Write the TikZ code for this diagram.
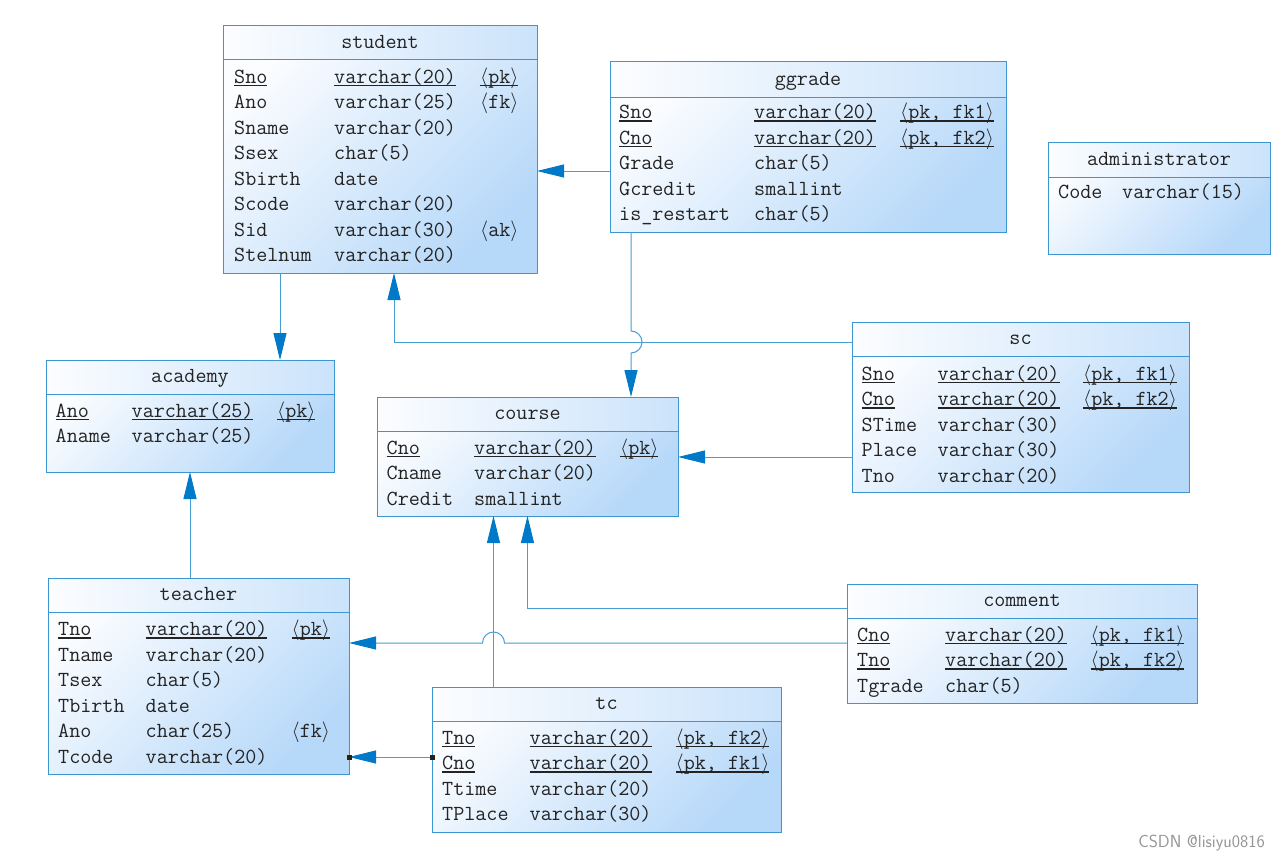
\documentclass[tikz,border=0pt]{standalone}
\usetikzlibrary{arrows.meta}
\definecolor{bord}{RGB}{60,150,210}
\definecolor{lin}{RGB}{70,158,212}
\definecolor{arr}{RGB}{0,122,200}
\definecolor{fillA}{RGB}{252,253,255}
\definecolor{fillB}{RGB}{182,216,249}
\definecolor{txt}{RGB}{35,35,35}
\definecolor{wmk}{RGB}{150,150,150}
\newcommand\erfont{\fontsize{21.5}{25}\selectfont\ttfamily}
\newcommand\erul[1]{\setbox0=\hbox{#1}\rlap{\rule[-3pt]{\wd0}{1.2pt}}\box0}
\newcommand\lan{$\langle$}
\newcommand\ran{$\rangle$}
\tikzset{
  tbl/.style={draw=bord, line width=1pt, top color=fillA, bottom color=fillB, shading angle=45, inner sep=0pt, outer sep=0pt, anchor=north west},
  hdr/.style={draw=bord, line width=1pt, left color=fillA, right color=fillB!70!fillA, inner sep=0pt, outer sep=0pt, anchor=north west},
  ttl/.style={font=\erfont, text=txt, inner sep=0pt, anchor=base, yshift=-5.5pt},
  cell/.style={font=\erfont, text=txt, inner sep=0pt, anchor=base west},
  fk/.style={draw=lin, line width=1pt, -{Triangle[length=27pt,width=13pt,color=arr]}},
  sq/.style={fill=black!75!brown, inner sep=0pt, minimum size=5pt},
}
% name x y w h hh title
\newcommand\erbox[7]{%
  \node[tbl, minimum width=#4pt, minimum height=#5pt] (#1) at (#2,#3) {};
  \node[hdr, minimum width=#4pt, minimum height=#6pt] (#1h) at (#2,#3) {};
  \node[ttl] (#1t) at (#1h.center) {#7};}
% prefix y x1 t1 x2 t2 x3 t3
\newcommand\erowiii[8]{%
  \node[cell] (#1a) at (#3,#2) {#4};
  \node[cell] (#1b) at (#5,#2) {#6};
  \node[cell] (#1c) at (#7,#2) {#8};}
\newcommand\erowii[6]{%
  \node[cell] (#1a) at (#3,#2) {#4};
  \node[cell] (#1b) at (#5,#2) {#6};}
\begin{document}
\begin{tikzpicture}[x=1pt,y=-1pt]
\fill[white] (0,0) rectangle (1279,859);
\useasboundingbox (0,0) rectangle (1279,859);

% student
\erbox{student}{223}{26}{314}{247}{34}{student}
\erowiii{s1}{83}{234}{\erul{Sno}}{334}{\erul{varchar(20)}}{480}{\erul{\lan pk\ran}}
\erowiii{s2}{108.5}{234}{Ano}{334}{varchar(25)}{480}{\lan fk\ran}
\erowii{s3}{134}{234}{Sname}{334}{varchar(20)}
\erowii{s4}{159.5}{234}{Ssex}{334}{char(5)}
\erowii{s5}{185}{234}{Sbirth}{334}{date}
\erowii{s6}{210.5}{234}{Scode}{334}{varchar(20)}
\erowiii{s7}{236}{234}{Sid}{334}{varchar(30)}{480}{\lan ak\ran}
\erowii{s8}{261.5}{234}{Stelnum}{334}{varchar(20)}

% ggrade
\erbox{ggrade}{610}{62}{396}{170}{35}{ggrade}
\erowiii{g1}{118.5}{619}{\erul{Sno}}{754}{\erul{varchar(20)}}{900}{\erul{\lan pk, fk1\ran}}
\erowiii{g2}{144}{619}{\erul{Cno}}{754}{\erul{varchar(20)}}{900}{\erul{\lan pk, fk2\ran}}
\erowii{g3}{169.5}{619}{Grade}{754}{char(5)}
\erowii{g4}{195}{619}{Gcredit}{754}{smallint}
\erowii{g5}{220.5}{619}{is\_restart}{754}{char(5)}

% administrator
\erbox{admin}{1048}{142}{222}{112}{35}{administrator}
\erowii{ad1}{198}{1058}{Code}{1122}{varchar(15)}

% academy
\erbox{academy}{46}{360}{288}{112}{34}{academy}
\erowiii{a1}{417}{55.5}{\erul{Ano}}{131.5}{\erul{varchar(25)}}{277}{\erul{\lan pk\ran}}
\erowii{a2}{442}{55.5}{Aname}{131.5}{varchar(25)}

% course
\erbox{course}{377}{397}{301}{119}{34.5}{course}
\erowiii{c1}{454}{386.5}{\erul{Cno}}{474}{\erul{varchar(20)}}{620}{\erul{\lan pk\ran}}
\erowii{c2}{479.5}{386.5}{Cname}{474}{varchar(20)}
\erowii{c3}{505}{386.5}{Credit}{474}{smallint}

% sc
\erbox{sc}{852}{322}{337}{170}{34.5}{sc}
\erowiii{sc1}{380}{861.5}{\erul{Sno}}{937.5}{\erul{varchar(20)}}{1083}{\erul{\lan pk, fk1\ran}}
\erowiii{sc2}{405.5}{861.5}{\erul{Cno}}{937.5}{\erul{varchar(20)}}{1083}{\erul{\lan pk, fk2\ran}}
\erowii{sc3}{431}{861.5}{STime}{937.5}{varchar(30)}
\erowii{sc4}{456.5}{861.5}{Place}{937.5}{varchar(30)}
\erowii{sc5}{482}{861.5}{Tno}{937.5}{varchar(20)}

% teacher
\erbox{teacher}{48}{578}{301}{196}{34}{teacher}
\erowiii{t1}{635.5}{58}{\erul{Tno}}{145.5}{\erul{varchar(20)}}{291.5}{\erul{\lan pk\ran}}
\erowii{t2}{661}{58}{Tname}{145.5}{varchar(20)}
\erowii{t3}{686.5}{58}{Tsex}{145.5}{char(5)}
\erowii{t4}{712}{58}{Tbirth}{145.5}{date}
\erowiii{t5}{737.5}{58}{Ano}{145.5}{char(25)}{291.5}{\lan fk\ran}
\erowii{t6}{763}{58}{Tcode}{145.5}{varchar(20)}

% comment
\erbox{comment}{847}{584}{350}{119}{34}{comment}
\erowiii{cm1}{641}{857}{\erul{Cno}}{945}{\erul{varchar(20)}}{1090.5}{\erul{\lan pk, fk1\ran}}
\erowiii{cm2}{666.5}{857}{\erul{Tno}}{945}{\erul{varchar(20)}}{1090.5}{\erul{\lan pk, fk2\ran}}
\erowii{cm3}{692}{857}{Tgrade}{945}{char(5)}

% tc
\erbox{tc}{432}{687}{349}{145}{34}{tc}
\erowiii{tc1}{744}{442}{\erul{Tno}}{529.5}{\erul{varchar(20)}}{675.5}{\erul{\lan pk, fk2\ran}}
\erowiii{tc2}{769.5}{442}{\erul{Cno}}{529.5}{\erul{varchar(20)}}{675.5}{\erul{\lan pk, fk1\ran}}
\erowii{tc3}{795}{442}{Ttime}{529.5}{varchar(20)}
\erowii{tc4}{820.5}{442}{TPlace}{529.5}{varchar(30)}

% connectors
\draw[fk] (ggrade.west |- 0,171) -- (student.east |- 0,171);
\draw[fk] (ggrade.south -| 631,0) -- (631,331) arc(90:-90:11pt) -- (course.north -| 631,0);
\draw[fk] (sc.west |- 0,342.5) -- (394,342.5) -- (student.south -| 394,0);
\draw[fk] (student.south -| 280,0) -- (academy.north -| 280,0);
\draw[fk] (sc.west |- 0,457) -- (course.east |- 0,457);
\draw[fk] (teacher.north -| 190,0) -- (academy.south -| 190,0);
\draw[fk] (comment.west |- 0,608.5) -- (527.5,608.5) -- (course.south -| 527.5,0);
\draw[fk] (comment.west |- 0,643) -- (504.5,643) arc(0:180:11pt) -- (teacher.east |- 0,643);
\draw[fk] (tc.north -| 493.5,0) -- (course.south -| 493.5,0);
\draw[fk] (tc.west |- 0,757) -- (teacher.east |- 0,757);
\node[sq] (sqa) at (tc.west |- 0,757) {};
\node[sq] (sqb) at (teacher.east |- 0,757) {};

% watermark
\node[font=\sffamily\fontsize{17.5}{20}\selectfont, text=wmk, anchor=base east, inner sep=0pt] (wm) at (1265,847) {CSDN @lisiyu0816};
\end{tikzpicture}
\end{document}
